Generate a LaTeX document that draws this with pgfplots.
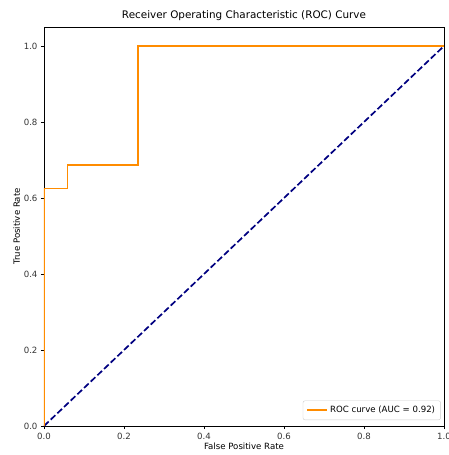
\documentclass[border=0pt]{standalone}
\usepackage{fontspec}
\setmainfont{DejaVu Sans}
\usepackage{pgfplots}
\pgfplotsset{compat=1.18}
\definecolor{darkorange}{RGB}{255,140,0}
\definecolor{mplnavy}{RGB}{0,0,128}
\definecolor{legframe}{RGB}{204,204,204}
\begin{document}
\begin{tikzpicture}
\begin{axis}[
  name=ax,
  scale only axis,
  width=400pt, height=399pt,
  xmin=0, xmax=1, ymin=0, ymax=1.05,
  xtick={0,0.2,0.4,0.6,0.8,1.0},
  ytick={0,0.2,0.4,0.6,0.8,1.0},
  xticklabels={0.0,0.2,0.4,0.6,0.8,1.0},
  yticklabels={0.0,0.2,0.4,0.6,0.8,1.0},
  tick align=outside,
  tick pos=left,
  major tick length=3pt,
  every tick/.style={black, line width=0.6pt},
  axis line style={line width=0.7pt, black},
  tick label style={font=\fontsize{8.6}{10}\selectfont, text=black!80},
  /pgf/number format/assume math mode=true,
  xticklabel style={yshift=-0.5pt},
  xlabel={False Positive Rate},
  ylabel={True Positive Rate},
  label style={font=\fontsize{8.6}{10}\selectfont},
  xlabel style={yshift=3pt},
  ylabel style={yshift=-3pt},
  title={Receiver Operating Characteristic (ROC) Curve},
  title style={font=\fontsize{10.4}{12}\selectfont, yshift=-3pt},
  legend cell align=left,
  legend style={font=\fontsize{8.6}{10}\selectfont, draw=legframe, rounded corners=2pt,
    inner xsep=3.5pt, inner ysep=3.5pt, at={(0.992,0.015)}, anchor=south east},
  legend image code/.code={\draw[#1] (0cm,0cm) -- (0.7cm,0cm);},
]
\addplot[mplnavy, line width=1.7pt, dash pattern=on 6.4pt off 2.8pt, forget plot]
  coordinates {(0,0) (1,1)};
\addplot[darkorange, line width=1.7pt, line join=miter, sharp plot]
  coordinates {(0,0) (0,0.625) (0.0588,0.625) (0.0588,0.6875) (0.2353,0.6875) (0.2353,1) (1,1)};
\addlegendentry{ROC curve (AUC = 0.92)}
\end{axis}
\pgfresetboundingbox
\useasboundingbox ([xshift=-44pt,yshift=-29pt]ax.south west) rectangle ([xshift=5pt,yshift=27pt]ax.north east);
\end{tikzpicture}
\end{document}
